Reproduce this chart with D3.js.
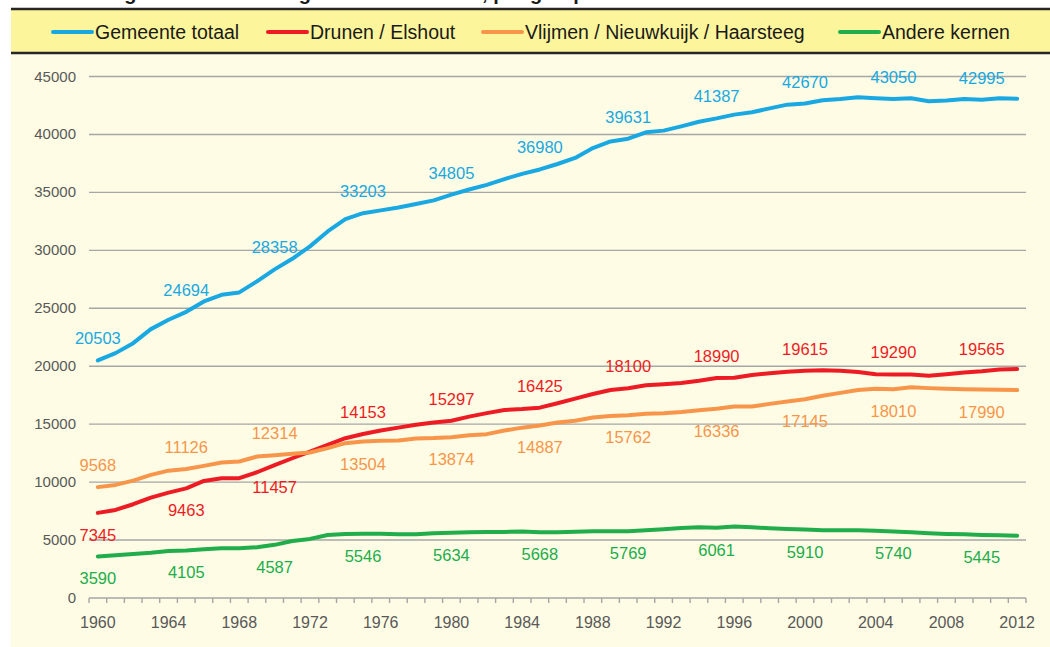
<!DOCTYPE html>
<html lang="nl">
<head>
<meta charset="UTF-8">
<title>Inwoners gemeente Heusden</title>
<script src="https://cdn.jsdelivr.net/npm/d3@7"></script>
<style>
  body { margin: 0; background: #fff; }
  svg { display: block; }
</style>
</head>
<body>
<svg id="chart" width="1050" height="647"></svg>
<script>
// jaren 1960 - 2012
var years = d3.range(1960, 2013);

var totaal = [20503,21130,21990,23200,24010,24694,25590,26160,26370,27320,
  28358,29270,30340,31630,32700,33203,33450,33700,34000,34310,
  34805,35250,35650,36150,36600,36980,37450,37970,38830,39400,
  39631,40180,40330,40700,41100,41387,41710,41910,42250,42570,
  42670,42950,43050,43200,43120,43050,43120,42860,42920,43060,
  42995,43120,43090];
var drunen = [7345,7600,8090,8660,9090,9463,10100,10340,10340,10850,
  11457,12060,12630,13210,13790,14153,14450,14700,14950,15150,
  15297,15650,15950,16230,16300,16425,16800,17200,17600,17950,
  18100,18350,18450,18550,18750,18990,19000,19250,19400,19530,
  19615,19650,19600,19500,19300,19290,19280,19180,19300,19450,
  19565,19720,19760];
var vlijmen = [9568,9760,10130,10620,10990,11126,11400,11690,11780,12200,
  12314,12440,12550,12930,13360,13504,13560,13590,13760,13800,
  13874,14050,14140,14450,14700,14887,15150,15300,15570,15700,
  15762,15900,15950,16050,16200,16336,16520,16520,16750,16950,
  17145,17450,17700,17950,18050,18010,18190,18110,18050,18020,
  17990,17970,17940];
var andere = [3590,3690,3800,3900,4060,4105,4200,4290,4300,4380,
  4587,4920,5100,5440,5530,5546,5540,5500,5510,5590,
  5634,5680,5700,5700,5730,5668,5680,5720,5760,5760,
  5769,5850,5930,6030,6100,6061,6160,6100,6020,5960,
  5910,5850,5840,5840,5810,5740,5670,5590,5530,5500,
  5445,5420,5380];

var seriesNames = ["Gemeente totaal", "Drunen / Elshout", "Vlijmen / Nieuwkuijk / Haarsteeg", "Andere kernen"];
var seriesColors = ["#19a8e2", "#ed1c24", "#f7964a", "#21ad4b"];
var seriesValues = [totaal, drunen, vlijmen, andere];
// jaren met een waardelabel, en of het label onder de lijn staat
var labelYears = [1960, 1965, 1970, 1975, 1980, 1985, 1990, 1995, 2000, 2005, 2010];
var labelBelow = [
  function (yr) { return false; },
  function (yr) { return yr <= 1970; },
  function (yr) { return yr >= 1975; },
  function (yr) { return true; }
];
var yTicks = [0, 5000, 10000, 15000, 20000, 25000, 30000, 35000, 40000, 45000];
var xTickYears = [1960, 1964, 1968, 1972, 1976, 1980, 1984, 1988, 1992, 1996, 2000, 2004, 2008, 2012];

var svg = d3.select("#chart");

// achtergronden
svg.append("rect").attr("x", 11).attr("y", 54).attr("width", 1039).attr("height", 593).attr("fill", "#fefce4");
svg.append("rect").attr("x", 11).attr("y", 9).attr("width", 1039).attr("height", 44).attr("fill", "#fdf59b");
svg.append("line").attr("x1", 11).attr("x2", 1050).attr("y1", 9).attr("y2", 9)
  .attr("stroke", "#262626").attr("stroke-width", 2.5);
svg.append("line").attr("x1", 11).attr("x2", 1050).attr("y1", 53).attr("y2", 53)
  .attr("stroke", "#262626").attr("stroke-width", 2.5);

// titel (valt grotendeels buiten beeld, zoals in het origineel)
svg.append("text").attr("x", 12).attr("y", 0)
  .attr("font-family", "Liberation Sans, Arial, sans-serif")
  .attr("font-weight", "bold").attr("font-size", 20).attr("fill", "#1a1a1a")
  .text("Ontwikkeling aantal inwoners gemeente Heusden, per groep kernen");

var x = d3.scaleBand().domain(years).range([89, 1026]);
var y = d3.scaleLinear().domain([0, 45000]).range([598, 76.5]);
var cx = function (yr) { return x(yr) + x.bandwidth() / 2; };

// rasterlijnen
svg.append("g").selectAll("line").data(yTicks.filter(function (d) { return d > 0; })).enter()
  .append("line")
  .attr("x1", 89).attr("x2", 1026)
  .attr("y1", function (d) { return y(d); }).attr("y2", function (d) { return y(d); })
  .attr("stroke", "#a6a6a6").attr("stroke-width", 1.4);

// y-as labels
svg.append("g").selectAll("text").data(yTicks).enter()
  .append("text")
  .attr("x", 76).attr("y", function (d) { return y(d) + 5; })
  .attr("text-anchor", "end")
  .attr("font-family", "Liberation Sans, Arial, sans-serif").attr("font-size", 15)
  .attr("fill", "#595959")
  .text(function (d) { return d; });

// x-as
var xAxis = svg.append("g");
xAxis.append("line").attr("x1", 89).attr("x2", 1026).attr("y1", 598).attr("y2", 598)
  .attr("stroke", "#a6a6a6").attr("stroke-width", 1.4);
xAxis.selectAll("line.tick").data(years.concat([2013])).enter()
  .append("line").attr("class", "tick")
  .attr("x1", function (d) { return d === 2013 ? 1026 : x(d); })
  .attr("x2", function (d) { return d === 2013 ? 1026 : x(d); })
  .attr("y1", 598).attr("y2", 603)
  .attr("stroke", "#a6a6a6").attr("stroke-width", 1.4);
xAxis.selectAll("text").data(xTickYears).enter()
  .append("text")
  .attr("x", function (d) { return cx(d); }).attr("y", 628)
  .attr("text-anchor", "middle")
  .attr("font-family", "Liberation Sans, Arial, sans-serif").attr("font-size", 16)
  .attr("fill", "#595959")
  .text(function (d) { return d; });

// lijnen
var line = d3.line()
  .x(function (d, i) { return cx(years[i]); })
  .y(function (d) { return y(d); });

seriesValues.forEach(function (vals, s) {
  svg.append("path").datum(vals)
    .attr("fill", "none")
    .attr("stroke", seriesColors[s])
    .attr("stroke-width", 4)
    .attr("stroke-linejoin", "round")
    .attr("stroke-linecap", "round")
    .attr("d", line);
});

// waardelabels
seriesValues.forEach(function (vals, s) {
  svg.append("g").selectAll("text").data(labelYears).enter()
    .append("text")
    .attr("x", function (yr) { return cx(yr); })
    .attr("y", function (yr) {
      var v = vals[years.indexOf(yr)];
      return labelBelow[s](yr) ? y(v) + 28 : y(v) - 16;
    })
    .attr("text-anchor", "middle")
    .attr("font-family", "Liberation Sans, Arial, sans-serif").attr("font-size", 16.5)
    .attr("fill", seriesColors[s])
    .text(function (yr) { return vals[years.indexOf(yr)]; });
});

// legenda
var legendX = [53, 268, 483, 840];
var legend = svg.append("g").selectAll("g").data(seriesNames).enter()
  .append("g")
  .attr("transform", function (d, i) { return "translate(" + legendX[i] + ",32)"; });
legend.append("line").attr("x1", 0).attr("x2", 39).attr("y1", 0).attr("y2", 0)
  .attr("stroke", function (d, i) { return seriesColors[i]; })
  .attr("stroke-width", 4).attr("stroke-linecap", "round");
legend.append("text").attr("x", 42).attr("y", 7)
  .attr("font-family", "Liberation Sans, Arial, sans-serif")
  .attr("font-size", 19.5).attr("fill", "#1a1a1a")
  .text(function (d) { return d; });
</script>
</body>
</html>
